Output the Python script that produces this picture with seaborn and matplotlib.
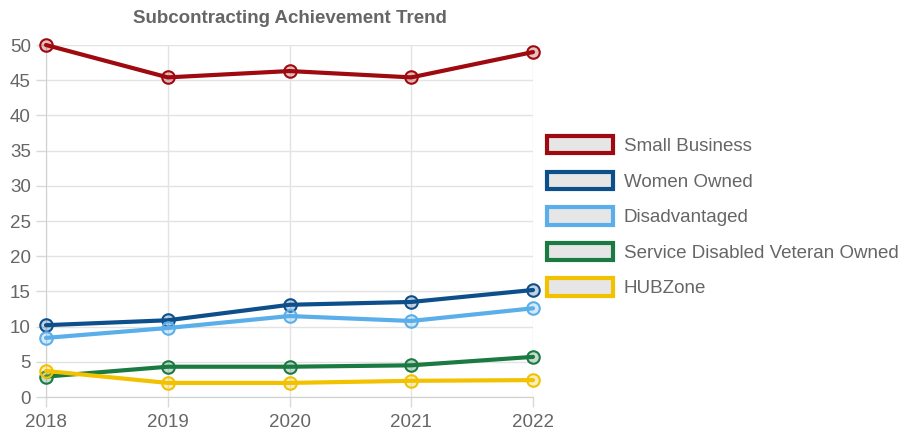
import numpy as np
import pandas as pd
import matplotlib
matplotlib.use("Agg")
import matplotlib.pyplot as plt
import seaborn as sns
from matplotlib.patches import Patch

years = [2018, 2019, 2020, 2021, 2022]
small_business = [50.0, 45.4, 46.3, 45.4, 49.0]
women_owned = [10.2, 10.9, 13.1, 13.5, 15.2]
disadvantaged = [8.4, 9.8, 11.5, 10.8, 12.6]
sdvo = [2.9, 4.3, 4.3, 4.5, 5.7]
hubzone = [3.7, 2.0, 2.0, 2.3, 2.4]

names = ["Small Business", "Women Owned", "Disadvantaged",
         "Service Disabled Veteran Owned", "HUBZone"]
colors = ["#9e0a0f", "#0d4f8b", "#5aaeea", "#1b7a42", "#f2c200"]

df = pd.DataFrame({"year": years * 5,
                   "value": small_business + women_owned + disadvantaged + sdvo + hubzone,
                   "series": [n for n in names for _ in years]})

sns.set_style("white")
plt.rcParams["font.family"] = ["Liberation Sans", "DejaVu Sans"]

fig = plt.figure(figsize=(9.07, 4.38), dpi=100)
ax = fig.add_axes([46 / 907, 1 - 397 / 438, (533 - 46) / 907, (397 - 45) / 438])

for name, c in zip(names, colors):
    sub = df[df["series"] == name]
    sns.lineplot(data=sub, x="year", y="value", color=c, linewidth=3, ax=ax,
                 marker="o", markersize=9, zorder=3)
    line = ax.lines[-1]
    line.set_markerfacecolor(matplotlib.colors.to_rgba(c, 0.25))
    line.set_markeredgecolor(c)
    line.set_markeredgewidth(1.5)
    line.set_clip_on(False)

ax.set_xlim(2018, 2022)
ax.set_ylim(0, 50)
ax.set_xticks(years)
ax.set_yticks(np.arange(0, 51, 5))
ax.grid(True, color="#e3e3e3", linewidth=1)
ax.set_axisbelow(True)
for s in ["top", "right"]:
    ax.spines[s].set_visible(False)
ax.spines["left"].set_color("#d0d0d0")
ax.spines["bottom"].set_color("#d0d0d0")
ax.tick_params(axis="both", colors="#d9d9d9", labelcolor="#666666", labelsize=13.5,
               length=7, width=1, left=True, bottom=True)
ax.tick_params(axis="x", pad=5)
ax.tick_params(axis="y", pad=4)
ax.set_xlabel("")
ax.set_ylabel("")
ax.set_title("Subcontracting Achievement Trend", fontsize=13.5, fontweight="bold",
             color="#666666", pad=16)

handles = [Patch(facecolor="#e6e6e6", edgecolor=c, linewidth=3, label=n)
           for n, c in zip(names, colors)]
fig.legend(handles=handles, loc="upper left", bbox_to_anchor=(547 / 907, 1 - 136 / 438),
           frameon=False, fontsize=13.5, labelcolor="#666666", handlelength=3.5,
           handleheight=1.05, handletextpad=0.6, labelspacing=0.88, borderaxespad=0,
           borderpad=0)

fig.savefig("out.png", dpi=100)
